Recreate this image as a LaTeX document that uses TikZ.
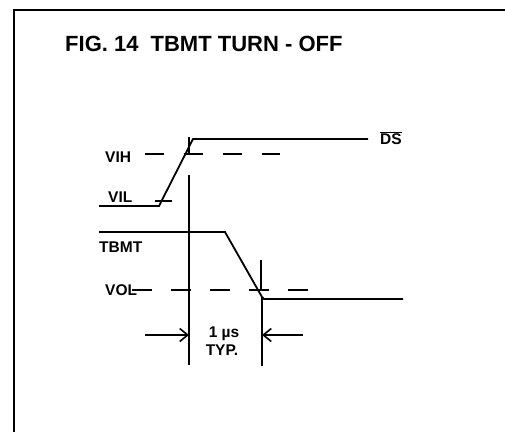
\documentclass[tikz,border=0pt]{standalone}
\usepackage{fontspec}
\setmainfont{Liberation Sans}
\usetikzlibrary{arrows.meta}
\begin{document}
\begin{tikzpicture}[x=1pt,y=-1pt,
  sig/.style={line width=1.8pt},
  thr/.style={line width=1.8pt, dash pattern=on 19pt off 20pt},
  lbl/.style={font=\bfseries\fontsize{15.5}{17}\selectfont, inner sep=0pt, anchor=base west},
  clbl/.style={font=\bfseries\fontsize{15.5}{17}\selectfont, inner sep=0pt, anchor=base},
  ttl/.style={font=\bfseries\fontsize{22}{26}\selectfont, inner sep=0pt, anchor=base west},
  dimarrow/.style={-{Straight Barb[length=8pt,width=13pt,line width=1.6pt]}, line width=1.6pt}]
\useasboundingbox (0,0) rectangle (505,432);
% frame
\draw[line width=2pt] (14,432) -- (14,10) -- (505,10);
% title
\node[ttl] (title) at (65,51) {FIG. 14\hspace{0.55em}TBMT TURN - OFF};
% labels
\node[lbl] (vih) at (105,162) {VIH};
\node[lbl] (vil) at (108,202) {VIL};
\node[lbl] (tbmt) at (99,252) {TBMT};
\node[lbl] (vol) at (105,295) {VOL};
\node[lbl] (ds) at (380,144) {$\overline{\hbox{\bfseries\fontsize{15.5}{17}\selectfont DS}}$};
\node[clbl] (us) at (224,337) {1 µs};
\node[clbl] (typ) at (222,355) {TYP.};
% DS waveform
\draw[sig] (99,206) -- (159,206) -- (193,139) -- (368,139);
% VIH threshold
\draw[thr] (145,154) -- (280,154);
% VIL tick
\draw[sig] (155,201) -- (172,201);
% left timing marker
\draw[sig] (189,137) -- (189,155);
\draw[sig] (189,175) coordinate (lt) -- (189,365) coordinate (lb);
% TBMT waveform
\draw[sig] (99,232) -- (225,232) -- (262,297) -- (264,299) -- (403,299);
% VOL threshold
\draw[line width=1.8pt, dash pattern=on 20pt off 19pt] (132,290) -- (308,290);
% right timing marker
\draw[sig] (261,260) -- (261,289);
\draw[sig] (262,297) coordinate (rt) -- (262,366) coordinate (rb);
% dimension arrows
\coordinate (la) at (189,335);
\coordinate (ra) at (262,335);
\draw[dimarrow] (145,335) -- (la);
\draw[dimarrow] (303,335) -- (ra);
\end{tikzpicture}
\end{document}
